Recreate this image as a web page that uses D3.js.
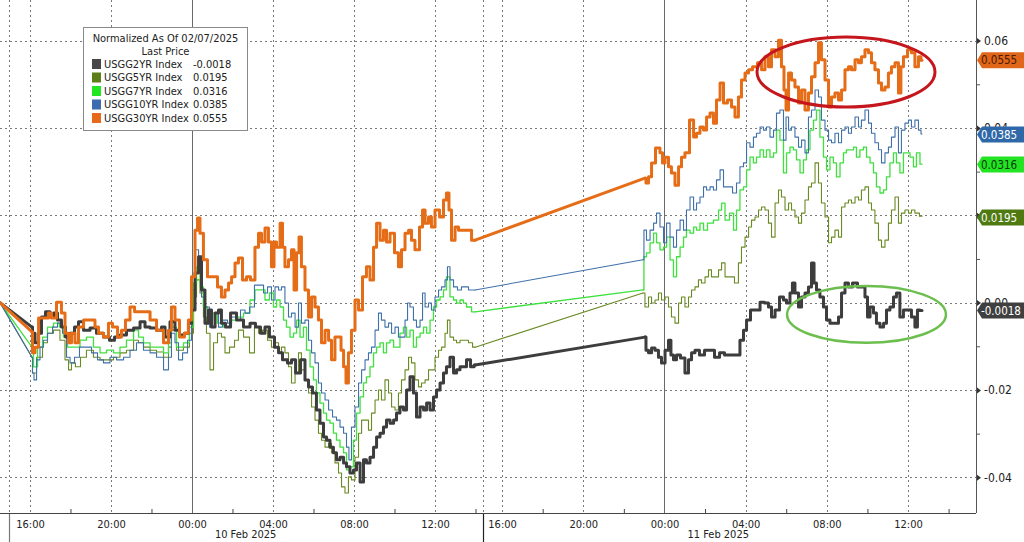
<!DOCTYPE html>
<html><head><meta charset="utf-8">
<script src="https://cdn.jsdelivr.net/npm/d3@7"></script>
<style>
body{margin:0;background:#fff;}
svg{display:block;}
text{font-family:"DejaVu Sans Condensed","DejaVu Sans",sans-serif;font-stretch:condensed;}
</style>
</head><body>
<svg id="c" width="1024" height="542"></svg>
<script>
// ---------------- DATA ----------------
// time = hours since 2025-02-09 00:00 (chart time zone); value = yield change normalized as of 02/07/2025
const seriesNames = ["USGG2YR Index","USGG5YR Index","USGG7YR Index","USGG10YR Index","USGG30YR Index"];
const lastValues = [-0.0018, 0.0195, 0.0316, 0.0385, 0.0555];
const legendTitle = ["Normalized As Of 02/07/2025","Last Price"];
const xMajorHours = [16,20,24,28,32,36,40,44,48,52,56,60];
const xMajorLabels = ["16:00","20:00","00:00","04:00","08:00","12:00","16:00","20:00","00:00","04:00","08:00","12:00"];
const xMinorHours = [18,22,26,30,34,38,42,46,50,54,58,62];
const midnights = [24,48];
const dateLabels = ["10 Feb 2025","11 Feb 2025"];
const sessionBreaks = [14.96,38.37];
const yMajorTicks = [-0.04,-0.02,0,0.02,0.04,0.06];
const yMinorTicks = [-0.03,-0.01,0.01,0.03,0.05];

const usgg30yr = [[14.52,0],[16.10,-0.0067],[16.15,-0.0115],[16.35,-0.0102],[16.50,-0.0035],[16.84,-0.0035],[16.99,-0.0024],[17.14,-0.0035],[17.48,0.0001],[17.63,-0.0024],[17.83,-0.0070],[17.98,-0.0092],[18.12,-0.0070],[18.32,-0.0092],[18.47,-0.0056],[18.82,-0.0040],[19.11,-0.0040],[19.31,-0.0056],[19.46,-0.0070],[19.80,-0.0079],[19.95,-0.0047],[20.20,-0.0056],[20.45,-0.0079],[20.59,-0.0063],[20.84,-0.0040],[21.04,-0.0010],[21.29,-0.0021],[21.78,-0.0021],[22.08,-0.0040],[22.42,-0.0063],[22.77,-0.0092],[22.91,-0.0063],[23.06,-0.0010],[23.26,-0.0040],[23.51,-0.0079],[23.75,-0.0070],[23.90,-0.0040],[24.05,0.0059],[24.25,0.0166],[24.30,0.0194],[24.49,0.0159],[24.64,0.0098],[24.89,0.0059],[25.14,0.0059],[25.38,0.0036],[25.53,0.0013],[25.73,0.0029],[25.88,0.0045],[26.03,0.0059],[26.22,0.0091],[26.37,0.0102],[26.62,0.0052],[26.77,0.0059],[27.01,0.0052],[27.21,0.0127],[27.36,0.0159],[27.51,0.0139],[27.70,0.0171],[27.85,0.0139],[28.00,0.0082],[28.10,0.0139],[28.25,0.0127],[28.45,0.0182],[28.49,0.0127],[28.69,0.0082],[28.84,0.0098],[28.99,0.0121],[29.09,0.0029],[29.24,0.0114],[29.33,0.0150],[29.48,0.0082],[29.68,0.0029],[29.83,-0.0033],[29.98,0.0013],[30.17,-0.0010],[30.32,-0.0040],[30.47,-0.0092],[30.67,-0.0063],[30.82,-0.0086],[30.96,-0.0131],[31.16,-0.0079],[31.31,-0.0079],[31.41,-0.0109],[31.56,-0.0147],[31.65,-0.0184],[31.80,-0.0115],[31.95,-0.0063],[32.15,0.0006],[32.30,-0.0017],[32.54,0.0059],[32.69,0.0082],[32.89,0.0052],[33.04,0.0127],[33.19,0.0182],[33.38,0.0143],[33.53,0.0166],[33.68,0.0139],[33.88,0.0159],[34.12,0.0114],[34.27,0.0082],[34.42,0.0121],[34.62,0.0159],[34.77,0.0166],[34.91,0.0143],[35.11,0.0121],[35.36,0.0173],[35.41,0.0212],[35.61,0.0182],[35.75,0.0196],[35.90,0.0173],[36.10,0.0212],[36.35,0.0196],[36.49,0.0235],[36.64,0.0251],[36.74,0.0212],[36.89,0.0143],[37.09,0.0173],[37.23,0.0166],[37.48,0.0166],[37.73,0.0166],[37.88,0.0143],[37.98,0.0143],
[47.04,0.0285],[47.14,0.0274],[47.29,0.0288],[47.44,0.0320],[47.68,0.0354],[47.88,0.0343],[47.93,0.0320],[48.13,0.0333],[48.27,0.0311],[48.42,0.0297],[48.62,0.0269],[48.77,0.0311],[48.91,0.0333],[49.11,0.0343],[49.36,0.0418],[49.51,0.0379],[49.65,0.0388],[49.85,0.0402],[50.00,0.0395],[50.15,0.0425],[50.34,0.0434],[50.49,0.0411],[50.64,0.0464],[50.84,0.0503],[50.98,0.0457],[51.23,0.0464],[51.38,0.0448],[51.57,0.0425],[51.72,0.0471],[51.87,0.0510],[52.07,0.0526],[52.22,0.0533],[52.46,0.0540],[52.71,0.0549],[52.86,0.0533],[53.05,0.0563],[53.20,0.0540],[53.35,0.0579],[53.55,0.0563],[53.69,0.0601],[53.84,0.0540],[53.94,0.0487],[54.04,0.0441],[54.19,0.0526],[54.33,0.0510],[54.53,0.0494],[54.68,0.0457],[54.83,0.0487],[55.02,0.0441],[55.17,0.0480],[55.32,0.0517],[55.52,0.0549],[55.66,0.0595],[55.81,0.0556],[56.01,0.0510],[56.16,0.0448],[56.30,0.0471],[56.50,0.0480],[56.65,0.0464],[56.80,0.0487],[56.99,0.0533],[57.14,0.0540],[57.29,0.0533],[57.49,0.0556],[57.63,0.0549],[57.78,0.0563],[57.98,0.0579],[58.13,0.0572],[58.27,0.0549],[58.47,0.0533],[58.62,0.0503],[58.77,0.0487],[58.96,0.0494],[59.11,0.0526],[59.26,0.0540],[59.46,0.0549],[59.60,0.0480],[59.70,0.0540],[59.85,0.0563],[60.10,0.0579],[60.24,0.0572],[60.44,0.0540],[60.59,0.0563],[60.69,0.0555]];

const usgg2yr = [[14.52,0],[16.10,-0.0056],[16.15,-0.0070],[16.35,-0.0092],[16.50,-0.0070],[16.64,-0.0033],[16.89,-0.0021],[17.09,-0.0033],[17.24,-0.0024],[17.48,-0.0040],[17.63,-0.0056],[17.88,-0.0079],[18.08,-0.0070],[18.32,-0.0056],[18.47,-0.0044],[18.82,-0.0063],[19.11,-0.0058],[19.46,-0.0070],[19.80,-0.0079],[20.05,-0.0086],[20.30,-0.0079],[20.59,-0.0074],[20.94,-0.0063],[21.29,-0.0058],[21.58,-0.0044],[21.78,-0.0056],[22.08,-0.0058],[22.42,-0.0063],[22.57,-0.0056],[22.77,-0.0079],[23.06,-0.0044],[23.26,-0.0063],[23.51,-0.0074],[23.75,-0.0070],[23.90,-0.0047],[24.05,-0.0017],[24.25,0.0068],[24.40,0.0105],[24.54,0.0029],[24.74,-0.0047],[24.89,-0.0017],[25.04,-0.0056],[25.24,-0.0024],[25.38,-0.0017],[25.53,-0.0047],[25.78,-0.0056],[26.03,-0.0024],[26.37,-0.0040],[26.72,-0.0056],[27.01,-0.0047],[27.26,-0.0056],[27.51,-0.0070],[27.70,-0.0056],[27.95,-0.0079],[28.20,-0.0102],[28.35,-0.0115],[28.59,-0.0131],[28.84,-0.0138],[28.99,-0.0131],[29.24,-0.0161],[29.48,-0.0131],[29.68,-0.0177],[29.83,-0.0193],[30.07,-0.0207],[30.22,-0.0246],[30.42,-0.0276],[30.57,-0.0308],[30.72,-0.0315],[30.91,-0.0331],[31.06,-0.0344],[31.21,-0.0360],[31.41,-0.0354],[31.56,-0.0367],[31.70,-0.0376],[31.90,-0.0390],[32.05,-0.0383],[32.20,-0.0367],[32.40,-0.0411],[32.54,-0.0360],[32.69,-0.0367],[32.89,-0.0354],[33.04,-0.0331],[33.19,-0.0308],[33.38,-0.0299],[33.53,-0.0285],[33.68,-0.0269],[33.88,-0.0276],[34.03,-0.0269],[34.17,-0.0253],[34.37,-0.0239],[34.52,-0.0246],[34.67,-0.0200],[34.86,-0.0170],[35.01,-0.0207],[35.16,-0.0262],[35.36,-0.0239],[35.51,-0.0246],[35.66,-0.0230],[35.85,-0.0246],[36.00,-0.0216],[36.15,-0.0200],[36.35,-0.0184],[36.49,-0.0161],[36.64,-0.0147],[36.84,-0.0125],[36.99,-0.0161],[37.14,-0.0154],[37.33,-0.0147],[37.48,-0.0147],[37.63,-0.0131],[37.88,-0.0147],[37.98,-0.0143],
[47.04,-0.0079],[47.14,-0.0109],[47.29,-0.0115],[47.44,-0.0104],[47.63,-0.0109],[47.78,-0.0125],[47.93,-0.0138],[48.13,-0.0109],[48.27,-0.0086],[48.37,-0.0120],[48.52,-0.0131],[48.67,-0.0120],[48.91,-0.0127],[49.11,-0.0161],[49.26,-0.0131],[49.41,-0.0115],[49.60,-0.0109],[49.85,-0.0120],[50.10,-0.0109],[50.34,-0.0109],[50.59,-0.0125],[50.84,-0.0115],[51.08,-0.0120],[51.38,-0.0120],[51.62,-0.0120],[51.82,-0.0086],[51.97,-0.0063],[52.12,-0.0040],[52.36,-0.0017],[52.61,-0.0017],[52.81,0.0001],[53.05,-0.0001],[53.20,-0.0010],[53.35,-0.0033],[53.55,-0.0017],[53.79,0.0013],[53.94,0.0006],[54.09,-0.0001],[54.28,0.0022],[54.33,0.0045],[54.53,0.0022],[54.68,-0.0010],[54.83,0.0013],[55.02,0.0022],[55.17,0.0036],[55.32,0.0091],[55.42,0.0045],[55.56,0.0029],[55.76,0.0013],[55.91,-0.0010],[56.06,-0.0040],[56.25,-0.0047],[56.50,-0.0047],[56.65,-0.0033],[56.80,0.0022],[56.99,0.0045],[57.14,0.0036],[57.39,0.0045],[57.63,0.0036],[57.78,0.0036],[57.98,0.0013],[58.03,-0.0033],[58.23,-0.0010],[58.37,-0.0024],[58.52,-0.0047],[58.72,-0.0056],[58.87,-0.0047],[59.01,-0.0017],[59.21,-0.0010],[59.36,0.0013],[59.50,0.0022],[59.70,-0.0033],[59.85,-0.0017],[60.10,-0.0017],[60.24,-0.0033],[60.44,-0.0056],[60.49,-0.0017],[60.69,-0.0018]];

const usgg10yr = [[14.52,0],[16.10,-0.0125],[16.15,-0.0161],[16.25,-0.0177],[16.40,-0.0131],[16.59,-0.0102],[16.74,-0.0086],[16.99,-0.0070],[17.24,-0.0056],[17.48,-0.0047],[17.73,-0.0070],[17.88,-0.0125],[18.08,-0.0138],[18.32,-0.0125],[18.57,-0.0102],[18.87,-0.0102],[19.21,-0.0115],[19.46,-0.0131],[19.80,-0.0138],[20.10,-0.0125],[20.45,-0.0131],[20.79,-0.0125],[21.09,-0.0109],[21.43,-0.0092],[21.78,-0.0109],[22.08,-0.0115],[22.42,-0.0125],[22.77,-0.0154],[22.91,-0.0125],[23.06,-0.0070],[23.26,-0.0092],[23.41,-0.0131],[23.66,-0.0115],[23.90,-0.0086],[24.05,0.0029],[24.25,0.0121],[24.40,0.0082],[24.54,0.0013],[24.74,-0.0010],[24.99,-0.0056],[25.24,-0.0024],[25.38,-0.0056],[25.63,-0.0040],[25.88,-0.0047],[26.03,-0.0033],[26.27,-0.0040],[26.52,-0.0017],[26.72,-0.0024],[26.96,-0.0010],[27.21,0.0040],[27.46,0.0040],[27.61,0.0022],[27.85,0.0036],[28.00,0.0006],[28.20,0.0036],[28.35,0.0029],[28.49,0.0036],[28.69,-0.0001],[28.84,-0.0033],[28.99,-0.0024],[29.19,-0.0056],[29.33,-0.0001],[29.48,-0.0047],[29.68,-0.0040],[29.83,-0.0086],[29.98,-0.0115],[30.17,-0.0138],[30.32,-0.0184],[30.47,-0.0207],[30.67,-0.0223],[30.82,-0.0246],[31.06,-0.0262],[31.21,-0.0269],[31.41,-0.0285],[31.56,-0.0299],[31.70,-0.0331],[31.80,-0.0360],[31.95,-0.0285],[32.15,-0.0239],[32.30,-0.0184],[32.45,-0.0154],[32.64,-0.0131],[32.79,-0.0115],[32.94,-0.0102],[33.14,-0.0063],[33.28,-0.0024],[33.43,-0.0040],[33.63,-0.0056],[33.78,-0.0047],[33.93,-0.0070],[34.12,-0.0056],[34.27,-0.0079],[34.42,-0.0079],[34.62,-0.0040],[34.67,-0.0001],[34.86,-0.0010],[35.01,-0.0040],[35.16,-0.0056],[35.36,-0.0040],[35.41,0.0022],[35.61,-0.0010],[35.75,-0.0001],[35.90,-0.0017],[36.10,0.0013],[36.25,0.0029],[36.40,0.0036],[36.59,0.0052],[36.64,0.0082],[36.84,0.0052],[36.99,0.0036],[37.23,0.0029],[37.38,0.0036],[37.58,0.0036],[37.73,0.0029],[37.98,0.0029],
[46.94,0.0098],[47.04,0.0166],[47.19,0.0143],[47.39,0.0166],[47.54,0.0182],[47.68,0.0205],[47.88,0.0173],[48.03,0.0137],[48.18,0.0182],[48.37,0.0150],[48.52,0.0127],[48.67,0.0166],[48.87,0.0189],[49.01,0.0166],[49.16,0.0212],[49.36,0.0242],[49.51,0.0212],[49.65,0.0228],[49.85,0.0242],[50.00,0.0265],[50.15,0.0258],[50.34,0.0265],[50.49,0.0258],[50.64,0.0281],[50.84,0.0304],[50.98,0.0265],[51.23,0.0265],[51.48,0.0251],[51.62,0.0274],[51.82,0.0311],[51.97,0.0320],[52.12,0.0366],[52.31,0.0356],[52.46,0.0379],[52.61,0.0388],[52.81,0.0402],[52.95,0.0395],[53.10,0.0402],[53.30,0.0379],[53.45,0.0395],[53.59,0.0434],[53.79,0.0441],[53.94,0.0372],[54.04,0.0425],[54.19,0.0395],[54.33,0.0402],[54.53,0.0379],[54.68,0.0356],[54.83,0.0372],[55.02,0.0343],[55.17,0.0425],[55.32,0.0441],[55.52,0.0487],[55.66,0.0471],[55.81,0.0418],[56.01,0.0395],[56.16,0.0372],[56.30,0.0366],[56.50,0.0388],[56.65,0.0366],[56.80,0.0395],[56.99,0.0402],[57.14,0.0388],[57.29,0.0402],[57.49,0.0425],[57.63,0.0402],[57.78,0.0418],[57.98,0.0441],[58.13,0.0411],[58.27,0.0388],[58.47,0.0366],[58.62,0.0350],[58.77,0.0320],[58.96,0.0343],[59.11,0.0356],[59.26,0.0379],[59.46,0.0402],[59.60,0.0343],[59.75,0.0395],[59.95,0.0411],[60.10,0.0418],[60.24,0.0402],[60.44,0.0418],[60.59,0.0395],[60.69,0.0386]];

const usgg7yr = [[14.52,0],[16.10,-0.0102],[16.25,-0.0147],[16.50,-0.0102],[16.74,-0.0079],[16.99,-0.0056],[17.33,-0.0047],[17.58,-0.0056],[17.73,-0.0079],[17.98,-0.0102],[18.32,-0.0102],[18.62,-0.0086],[18.96,-0.0079],[19.31,-0.0102],[19.61,-0.0115],[19.95,-0.0109],[20.30,-0.0115],[20.59,-0.0102],[20.94,-0.0086],[21.29,-0.0063],[21.43,-0.0079],[21.78,-0.0092],[22.08,-0.0102],[22.42,-0.0102],[22.77,-0.0115],[22.91,-0.0092],[23.06,-0.0056],[23.41,-0.0102],[23.75,-0.0092],[24.00,-0.0056],[24.15,0.0045],[24.30,0.0082],[24.49,0.0036],[24.64,-0.0010],[24.89,-0.0040],[25.14,-0.0024],[25.38,-0.0047],[25.73,-0.0056],[26.03,-0.0040],[26.37,-0.0033],[26.72,-0.0024],[27.01,0.0006],[27.21,0.0029],[27.51,0.0029],[27.70,0.0006],[27.95,0.0022],[28.10,-0.0010],[28.25,0.0006],[28.45,-0.0010],[28.59,-0.0040],[28.74,-0.0056],[28.94,-0.0079],[29.09,-0.0070],[29.24,-0.0040],[29.43,-0.0079],[29.58,-0.0056],[29.73,-0.0109],[29.93,-0.0147],[30.07,-0.0177],[30.22,-0.0207],[30.42,-0.0230],[30.57,-0.0253],[30.72,-0.0269],[30.91,-0.0276],[31.06,-0.0299],[31.21,-0.0315],[31.41,-0.0331],[31.56,-0.0344],[31.70,-0.0383],[31.90,-0.0376],[32.05,-0.0315],[32.20,-0.0253],[32.40,-0.0216],[32.54,-0.0184],[32.69,-0.0170],[32.89,-0.0147],[33.04,-0.0115],[33.19,-0.0102],[33.38,-0.0092],[33.53,-0.0115],[33.68,-0.0092],[33.88,-0.0086],[34.03,-0.0102],[34.17,-0.0102],[34.37,-0.0070],[34.52,-0.0056],[34.67,-0.0079],[34.86,-0.0063],[35.01,-0.0102],[35.16,-0.0079],[35.36,-0.0070],[35.51,-0.0056],[35.66,-0.0070],[35.85,-0.0040],[36.00,-0.0010],[36.15,0.0006],[36.35,0.0013],[36.49,0.0029],[36.64,0.0059],[36.84,0.0013],[36.99,0.0006],[37.14,-0.0001],[37.33,0.0006],[37.48,-0.0001],[37.63,-0.0010],[37.98,-0.0021],
[46.94,0.0029],[47.04,0.0105],[47.19,0.0114],[47.39,0.0137],[47.54,0.0159],[47.68,0.0137],[47.88,0.0121],[48.03,0.0127],[48.18,0.0150],[48.37,0.0098],[48.52,0.0059],[48.67,0.0105],[48.87,0.0127],[49.01,0.0150],[49.16,0.0166],[49.36,0.0159],[49.51,0.0173],[49.65,0.0166],[49.85,0.0182],[50.00,0.0166],[50.24,0.0182],[50.59,0.0189],[50.74,0.0212],[50.89,0.0228],[51.08,0.0189],[51.33,0.0205],[51.48,0.0166],[51.62,0.0212],[51.82,0.0258],[51.97,0.0265],[52.12,0.0304],[52.31,0.0333],[52.46,0.0320],[52.61,0.0333],[52.81,0.0350],[52.95,0.0333],[53.10,0.0350],[53.30,0.0333],[53.45,0.0343],[53.59,0.0395],[53.79,0.0372],[53.94,0.0297],[54.09,0.0343],[54.28,0.0356],[54.43,0.0350],[54.58,0.0327],[54.78,0.0297],[54.92,0.0327],[55.07,0.0350],[55.27,0.0395],[55.42,0.0418],[55.56,0.0441],[55.76,0.0379],[55.91,0.0333],[56.06,0.0304],[56.25,0.0333],[56.40,0.0320],[56.55,0.0288],[56.75,0.0320],[56.89,0.0343],[57.04,0.0350],[57.24,0.0350],[57.39,0.0356],[57.53,0.0333],[57.73,0.0350],[57.88,0.0356],[58.03,0.0333],[58.23,0.0320],[58.37,0.0297],[58.52,0.0265],[58.72,0.0251],[58.87,0.0258],[59.01,0.0288],[59.21,0.0320],[59.36,0.0343],[59.50,0.0320],[59.70,0.0297],[59.85,0.0343],[60.00,0.0343],[60.20,0.0333],[60.34,0.0311],[60.49,0.0343],[60.69,0.0317]];

const usgg5yr = [[14.52,0],[16.10,-0.0125],[16.15,-0.0161],[16.50,-0.0125],[16.74,-0.0092],[16.99,-0.0070],[17.33,-0.0063],[17.63,-0.0086],[17.83,-0.0131],[17.98,-0.0154],[18.12,-0.0138],[18.37,-0.0147],[18.62,-0.0125],[18.96,-0.0109],[19.31,-0.0125],[19.61,-0.0131],[19.95,-0.0131],[20.30,-0.0125],[20.59,-0.0115],[20.94,-0.0109],[21.29,-0.0086],[21.43,-0.0092],[21.78,-0.0102],[22.08,-0.0109],[22.42,-0.0113],[22.77,-0.0125],[22.91,-0.0102],[23.06,-0.0063],[23.41,-0.0109],[23.75,-0.0102],[24.00,-0.0070],[24.15,0.0013],[24.30,0.0052],[24.49,0.0022],[24.64,-0.0033],[24.79,-0.0070],[24.99,-0.0154],[25.14,-0.0092],[25.38,-0.0070],[25.53,-0.0079],[25.73,-0.0115],[25.98,-0.0102],[26.22,-0.0086],[26.37,-0.0063],[26.72,-0.0079],[26.96,-0.0115],[27.21,-0.0056],[27.36,-0.0070],[27.61,-0.0063],[27.85,-0.0086],[28.00,-0.0102],[28.20,-0.0092],[28.35,-0.0115],[28.49,-0.0102],[28.69,-0.0115],[28.84,-0.0147],[28.99,-0.0184],[29.19,-0.0161],[29.33,-0.0115],[29.48,-0.0154],[29.68,-0.0177],[29.83,-0.0207],[29.98,-0.0239],[30.17,-0.0269],[30.32,-0.0299],[30.47,-0.0315],[30.67,-0.0331],[30.82,-0.0322],[30.96,-0.0344],[31.16,-0.0367],[31.31,-0.0390],[31.46,-0.0422],[31.65,-0.0436],[31.80,-0.0399],[31.95,-0.0406],[32.15,-0.0354],[32.30,-0.0299],[32.45,-0.0269],[32.64,-0.0269],[32.79,-0.0292],[32.94,-0.0253],[33.14,-0.0223],[33.28,-0.0200],[33.43,-0.0223],[33.63,-0.0177],[33.78,-0.0207],[33.93,-0.0239],[34.12,-0.0246],[34.27,-0.0207],[34.42,-0.0177],[34.62,-0.0154],[34.77,-0.0125],[34.91,-0.0138],[35.11,-0.0177],[35.26,-0.0193],[35.41,-0.0184],[35.61,-0.0177],[35.75,-0.0154],[35.90,-0.0154],[36.10,-0.0125],[36.25,-0.0109],[36.40,-0.0102],[36.59,-0.0070],[36.64,-0.0040],[36.84,-0.0079],[36.99,-0.0086],[37.14,-0.0092],[37.33,-0.0086],[37.58,-0.0086],[37.73,-0.0092],[37.98,-0.0102],
[46.94,0.0022],[47.14,-0.0010],[47.29,0.0013],[47.44,-0.0001],[47.63,0.0006],[47.78,0.0022],[47.93,0.0006],[48.13,0.0013],[48.27,-0.0010],[48.42,-0.0033],[48.62,-0.0047],[48.77,-0.0001],[48.91,0.0013],[49.11,-0.0010],[49.26,0.0013],[49.41,0.0029],[49.60,0.0036],[49.75,0.0052],[49.90,0.0045],[50.10,0.0059],[50.24,0.0075],[50.39,0.0059],[50.59,0.0059],[50.74,0.0075],[50.89,0.0091],[51.08,0.0059],[51.33,0.0059],[51.57,0.0045],[51.72,0.0091],[51.87,0.0127],[52.07,0.0150],[52.22,0.0173],[52.36,0.0189],[52.56,0.0196],[52.71,0.0212],[52.86,0.0219],[53.05,0.0212],[53.20,0.0182],[53.35,0.0150],[53.55,0.0228],[53.69,0.0258],[53.84,0.0242],[54.04,0.0212],[54.19,0.0228],[54.33,0.0212],[54.53,0.0196],[54.68,0.0182],[54.83,0.0205],[55.02,0.0235],[55.17,0.0265],[55.32,0.0274],[55.52,0.0320],[55.66,0.0274],[55.81,0.0228],[56.01,0.0196],[56.16,0.0137],[56.30,0.0150],[56.50,0.0166],[56.65,0.0150],[56.80,0.0219],[56.99,0.0228],[57.14,0.0235],[57.29,0.0228],[57.49,0.0242],[57.63,0.0235],[57.78,0.0258],[57.98,0.0265],[58.13,0.0228],[58.27,0.0212],[58.47,0.0182],[58.62,0.0143],[58.77,0.0127],[58.96,0.0143],[59.11,0.0182],[59.26,0.0212],[59.46,0.0242],[59.60,0.0182],[59.75,0.0205],[59.95,0.0212],[60.10,0.0205],[60.24,0.0212],[60.44,0.0205],[60.69,0.0198]];

// annotation ellipses: [startHour, endHour, lowValue, highValue]
const redEllipse = [52.56, 61.33, 0.0448, 0.0608];
const greenEllipse = [54.04, 61.87, -0.0092, 0.0038];

// ---------------- STYLE ----------------
const seriesData = [usgg2yr, usgg5yr, usgg7yr, usgg10yr, usgg30yr];
const lineColors = ["#3d3d3d", "#6a8a22", "#3fe03f", "#3f70aa", "#e66d17"];
const swatchColors = ["#474747", "#5b7f16", "#22e622", "#3a6cae", "#e8691a"];
const tagColors = ["#3f3f3f", "#4f7a12", "#22e422", "#2f68a8", "#e0661a"];
const tagText = ["#ffffff", "#ffffff", "#0a3a0a", "#ffffff", "#4a1a00"];
const lineWidths = [3, 1.1, 1.3, 1.1, 3];
const drawOrder = [1, 2, 3, 0, 4];

const svg = d3.select("#c");
const plotRight = 976, axisY = 513;
const x = d3.scaleLinear().domain([14.52, 38.37, 39.06, 63.35]).range([0, 483, 483, plotRight]);
const y = d3.scaleLinear().domain([-0.04, 0.06]).range([477.3, 40.6]);

// horizontal grid
svg.append("g").selectAll("line").data(yMajorTicks).join("line")
  .attr("x1", 0).attr("x2", plotRight).attr("y1", d => Math.round(y(d)) + 0.5).attr("y2", d => Math.round(y(d)) + 0.5)
  .attr("stroke", "#7a7a7a").attr("stroke-width", 1).attr("stroke-dasharray", "2,3");

// vertical grid
svg.append("g").selectAll("line").data(xMajorHours.filter(h => !midnights.includes(h))).join("line")
  .attr("x1", d => Math.round(x(d)) + 0.5).attr("x2", d => Math.round(x(d)) + 0.5).attr("y1", 0).attr("y2", axisY)
  .attr("stroke", "#7a7a7a").attr("stroke-width", 1).attr("stroke-dasharray", "2,3");
svg.append("g").selectAll("line").data(midnights).join("line")
  .attr("x1", d => Math.round(x(d)) + 0.5).attr("x2", d => Math.round(x(d)) + 0.5).attr("y1", 0).attr("y2", axisY)
  .attr("stroke", "#6a6a6a").attr("stroke-width", 1);
// session breaks
const sb = svg.append("g");
sb.selectAll("line.a").data(sessionBreaks).join("line").attr("class","a")
  .attr("x1", d => Math.round(x(d)) + 0.5).attr("x2", d => Math.round(x(d)) + 0.5).attr("y1", 0).attr("y2", axisY)
  .attr("stroke", "#7a7a7a").attr("stroke-dasharray", "2,3");
sb.selectAll("line.b").data(sessionBreaks).join("line").attr("class","b")
  .attr("x1", d => Math.round(x(d)) + 0.5).attr("x2", d => Math.round(x(d)) + 0.5).attr("y1", axisY).attr("y2", 542)
  .attr("stroke", (d, i) => i === 0 ? "#777" : "#222").attr("stroke-width", 1.2);

// series: stepped within trading sessions, straight connectors across data gaps
function splitSessions(data) {
  const parts = [[data[0]]];
  for (let k = 1; k < data.length; k++) {
    if (data[k][0] - data[k - 1][0] > 1) parts.push([]);
    parts[parts.length - 1].push(data[k]);
  }
  return parts;
}
const stepLine = d3.line().x(d => x(d[0])).y(d => y(d[1])).curve(d3.curveStep);
const straight = d3.line().x(d => x(d[0])).y(d => y(d[1]));
const sg = svg.append("g");
drawOrder.forEach(i => {
  const parts = splitSessions(seriesData[i]);
  const g = sg.append("g").attr("fill", "none").attr("stroke", lineColors[i])
    .attr("stroke-width", lineWidths[i]).attr("stroke-linejoin", "round").attr("stroke-linecap", "round");
  parts.forEach((p, k) => {
    if (p.length > 1) g.append("path").datum(p).attr("d", stepLine);
    if (k > 0) g.append("path").datum([parts[k - 1][parts[k - 1].length - 1], p[0]]).attr("d", straight);
  });
});

// annotation ellipses
function ellipse(e, color, w) {
  const cx = (x(e[0]) + x(e[1])) / 2, cy = (y(e[2]) + y(e[3])) / 2;
  svg.append("ellipse").attr("cx", cx).attr("cy", cy)
    .attr("rx", Math.abs(x(e[1]) - x(e[0])) / 2).attr("ry", Math.abs(y(e[2]) - y(e[3])) / 2)
    .attr("fill", "none").attr("stroke", color).attr("stroke-width", w);
}
ellipse(redEllipse, "#c4161c", 3);
ellipse(greenEllipse, "#6cbf4e", 2.5);

// bottom axis
const xAxis = d3.axisBottom(x).tickValues(xMajorHours).tickSize(0).tickPadding(7)
  .tickFormat((d, i) => xMajorLabels[i]);
const gx = svg.append("g").attr("transform", `translate(0,${axisY})`).call(xAxis);
gx.select(".domain").attr("d", `M0,0.5H${plotRight}`).attr("stroke", "#444");
gx.selectAll("text").attr("font-size", 11).attr("fill", "#222")
  .style("font-family", '"DejaVu Sans Condensed","DejaVu Sans",sans-serif');
const xMinor = d3.axisBottom(x).tickValues(xMinorHours).tickSize(-4).tickFormat("");
const gxm = svg.append("g").attr("transform", `translate(0,${axisY})`).call(xMinor);
gxm.select(".domain").remove();
gxm.selectAll("line").attr("stroke", "#444");
svg.append("g").selectAll("text").data(dateLabels).join("text")
  .attr("x", (d, i) => x(midnights[i] + 2.65)).attr("y", 538)
  .attr("text-anchor", "middle").attr("font-size", 11).attr("fill", "#222").text(d => d);

// right axis
const yAxis = d3.axisRight(y).tickValues(yMajorTicks).tickSize(0).tickPadding(8)
  .tickFormat(d => d3.format(".2f")(d).replace("\u2212", "-"));
const gy = svg.append("g").attr("transform", `translate(${plotRight},0)`).call(yAxis);
gy.select(".domain").attr("d", `M0.5,0V${axisY}`).attr("stroke", "#555");
gy.selectAll("text").attr("font-size", 12).attr("fill", "#222")
  .style("font-family", '"DejaVu Sans Condensed","DejaVu Sans",sans-serif');
gy.selectAll(".tick").append("path").attr("d", "M1,-3L5,0L1,3Z").attr("fill", "#333");
const yMinor = d3.axisRight(y).tickValues(yMinorTicks).tickSize(4).tickFormat("");
const gym = svg.append("g").attr("transform", `translate(${plotRight},0)`).call(yMinor);
gym.select(".domain").remove();
gym.selectAll("line").attr("stroke", "#555");

// last value tags
const tags = svg.append("g");
lastValues.forEach((v, i) => {
  const yy = y(v);
  tags.append("path")
    .attr("d", `M${plotRight + 1},${yy} L${plotRight + 6},${yy - 8} H1030 V${yy + 8} H${plotRight + 6} Z`)
    .attr("fill", tagColors[i]);
  tags.append("text").attr("x", plotRight + 5).attr("y", yy).attr("dy", "0.36em")
    .attr("font-size", 11.5).attr("fill", tagText[i]).text(d3.format(".4f")(v).replace("\u2212", "-"));
});

// legend
const lg = svg.append("g");
lg.append("rect").attr("x", 83.5).attr("y", 27.5).attr("width", 164).attr("height", 103)
  .attr("fill", "#fff").attr("stroke", "#8a8a8a");
lg.selectAll("text.t").data(legendTitle).join("text").attr("class", "t")
  .attr("x", 165.5).attr("y", (d, i) => 42 + i * 13.3).attr("text-anchor", "middle")
  .attr("font-size", 11).attr("fill", "#222").text(d => d);
seriesNames.forEach((n, i) => {
  const ry = 64 + i * 13.5;
  lg.append("rect").attr("x", 92).attr("y", ry - 5).attr("width", 9).attr("height", 10).attr("fill", swatchColors[i]);
  lg.append("text").attr("x", 104).attr("y", ry).attr("dy", "0.36em").attr("font-size", 11).attr("fill", "#222").text(n);
  lg.append("text").attr("x", 193).attr("y", ry).attr("dy", "0.36em").attr("font-size", 11).attr("fill", "#222")
    .text(d3.format(".4f")(lastValues[i]).replace("\u2212", "-"));
});
</script>
</body></html>
